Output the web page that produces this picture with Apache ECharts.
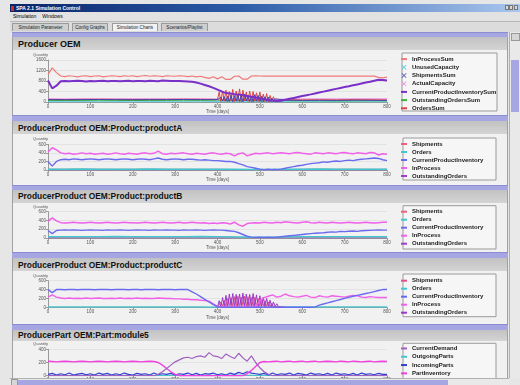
<!DOCTYPE html>
<html lang="en">
<head>
<meta charset="UTF-8">
<title>SPA 2.1 Simulation Control</title>
<style>
  body { margin:0; width:520px; height:385px; overflow:hidden; position:relative; background:#e6e6e6;
         font-family:'Liberation Sans', Arial, sans-serif; }
  .abs { position:absolute; }
  .titlebar { left:10px; top:4px; width:510px; height:8px; color:#fff; font-size:5px; font-weight:bold; line-height:8px;
              background:linear-gradient(to right,#0a246a,#2d5ca8 45%,#a8c6ee); }
  .titlebar .ico { display:inline-block; width:3px; height:5px; background:#d03020; margin:0 2px 0 1px; vertical-align:-1px; }
  .winbtn { top:5px; width:4px; height:5px; background:#d8d8d8; border:1px solid #777; box-sizing:border-box; }
  .menubar { left:10px; top:12px; width:510px; height:9px; background:#e2e2e2; border-bottom:1px solid #b8b8b8;
             font-size:5px; line-height:9px; }
  .menubar span { margin-left:3px; margin-right:3px; }
  .tabrow { left:10px; top:22px; width:510px; height:10px; background:#dcdcdc; }
  .tab { top:1px; height:8px; border:1px solid #9a9a9a; border-bottom:none; background:#cfcfcf; font-size:4.6px;
         line-height:8px; text-align:center; box-sizing:border-box; color:#222; }
  .tab.sel { background:#f2f2f2; }
  .stripe { left:12px; width:496px; background:#a6a6e2; border-top:1px solid #8c8cd0; box-sizing:border-box; }
  .ptitle { left:12px; width:496px; background:linear-gradient(#c2c2c2,#d4d4d4); font-weight:bold; color:#111;
            box-sizing:border-box; padding-left:5px; border-left:1px solid #a0a0a0; border-right:1px solid #a0a0a0; }
  .chart { left:12px; width:496px; background:#f1f1f1; border-left:1px solid #a0a0a0; border-right:1px solid #a0a0a0;
           box-sizing:border-box; overflow:hidden; }
  .vscroll { left:509px; top:32px; width:10px; height:346px; background:#e9e9e9; border-left:1px solid #b0b0b0; }
  .hscroll { left:10px; top:378px; width:499px; height:7px; background:#e9e9e9; border-top:1px solid #b0b0b0; }
</style>
</head>
<body>
  <div class="abs titlebar"><span class="ico"></span>SPA 2.1 Simulation Control</div>
  <div class="abs winbtn" style="left:505px"></div>
  <div class="abs winbtn" style="left:509px"></div>
  <div class="abs winbtn" style="left:514px"></div>
  <div class="abs menubar"><span>Simulation</span><span>Windows</span></div>
  <div class="abs tabrow">
    <div class="abs tab" style="left:2px;width:57px">Simulation Parameter</div>
    <div class="abs tab" style="left:62px;width:36px">Config Graphs</div>
    <div class="abs tab sel" style="left:102px;width:46px">Simulation Charts</div>
    <div class="abs tab" style="left:151px;width:47px">Scenarios/Playlist</div>
  </div>

  <div class="abs stripe" style="top:32px;height:5px"></div>
  <div class="abs ptitle" style="top:37px;height:13px;font-size:9px;line-height:14px">Producer OEM</div>
  <div class="abs chart" id="c1" style="top:50px;height:65px"></div>

  <div class="abs stripe" style="top:115px;height:6px"></div>
  <div class="abs ptitle" style="top:121px;height:13px;font-size:8.4px;line-height:14px">ProducerProduct OEM:Product:productA</div>
  <div class="abs chart" id="c2" style="top:134px;height:51px"></div>

  <div class="abs stripe" style="top:185px;height:5px"></div>
  <div class="abs ptitle" style="top:190px;height:13px;font-size:8.4px;line-height:13px">ProducerProduct OEM:Product:productB</div>
  <div class="abs chart" id="c3" style="top:203px;height:49px"></div>

  <div class="abs stripe" style="top:252px;height:6px"></div>
  <div class="abs ptitle" style="top:258px;height:13px;font-size:8.4px;line-height:14px">ProducerProduct OEM:Product:productC</div>
  <div class="abs chart" id="c4" style="top:271px;height:53px"></div>

  <div class="abs stripe" style="top:324px;height:6px"></div>
  <div class="abs ptitle" style="top:330px;height:11px;font-size:8.4px;line-height:11px">ProducerPart OEM:Part:module5</div>
  <div class="abs chart" id="c5" style="top:341px;height:37px"></div>

  <div class="abs vscroll">
    <div class="abs" style="left:1px;top:1px;width:7px;height:6px;background:#d6d6d6;border:1px solid #999"></div>
    <div class="abs" style="left:1px;top:28px;width:8px;height:52px;background:#a6a6e2"></div>
  </div>
  <div class="abs hscroll">
    <div class="abs" style="left:1px;top:0;width:5px;height:6px;background:#d6d6d6;border:1px solid #999"></div>
    <div class="abs" style="left:8px;top:1px;width:430px;height:5px;background:#a6a6e2"></div>
  </div>

  <script src="https://cdn.jsdelivr.net/npm/echarts@6/dist/echarts.min.js"></script>
  <script>
    const FONT = "'Liberation Sans', Arial, sans-serif";
    const X_MARK = 'path://M0,1L1,0L5,4L9,0L10,1L6,5L10,9L9,10L5,6L1,10L0,9L4,5Z';

    // time axis (days)
    const days = [0,10,20,30,40,50,60,70,80,90, 100,110,120,130,140,150,160,170,180,190,
      200,210,220,230,240,250,260,270,280,290, 300,310,320,330,340,350,360,370,380,390,
      400,410,420,430,440,450,460,470,480,490, 500,510,520,530,540,550,560,570,580,590,
      600,610,620,630,640,650,660,670,680,690, 700,710,720,730,740,750,760,770,780,790, 800];
    const daysCoarse = [0,40,80,120,160,200,240,280,320,360,400,440,480,520,560,600,640,680,720,760,800];

    // ---- Producer OEM ----
    const inProcessSum = [1050,1300,1120,990,970,1000,980,960,990,1000, 970,990,1000,960,980,1000,990,970,1000,980,
      1000,970,990,1010,980,1000,990,970,1000,990, 980,1000,990,970,990,960,980,940,900,960,
      880,960,860,860,980,990,870,870,990,1000, 990,985,985,985,985,985,985,985,985,985,
      985,985,985,985,985,985,985,985,985,985, 985,985,985,985,985,985,985,985,940,920, 950];
    const cpiSum = [820,520,620,790,800,790,800,810,800,780, 800,790,800,810,790,800,800,790,800,810,
      790,800,800,790,810,800,790,820,810,800, 800,800,790,780,770,740,700,650,600,540,
      470,400,340,320,300,290,260,230,200,170, 140,110,80,60,40,50,85,120,155,190,
      225,260,290,325,360,395,430,465,500,535, 570,600,635,670,705,740,775,810,845,840, 820];
    const ordersDays = [0,40,80,120,160,200,240,280,320,360,
      400,404,408,412,416,420,424,428,432,436,440,444,448,452,456,460,464,468,472,476,
      480,484,488,492,496,500,504,508,512,516,520,524,528,532,536,540,
      560,600,640,680,720,760,800];
    const ordersSum = [100,95,100,105,100,95,100,100,105,100,
      100,380,20,420,30,450,10,400,40,480,20,420,30,500,10,450,40,380,20,420,
      10,400,30,350,20,380,10,300,20,320,10,250,20,200,30,100,
      90,80,85,80,90,85,80];
    const shipmentsSum = [90,85,90,95,90,85,90,90,95,90,
      90,60,180,40,200,30,220,20,260,10,240,30,280,20,250,10,300,40,260,20,
      230,10,280,30,250,20,220,10,200,20,180,10,150,20,120,60,
      70,60,65,60,70,65,60];
    const outstandingOrdersSum = [60,55,60,65,60,55,60,60,65,60,70,50,60,40,50,45,50,40,45,50,45];
    const unusedCapacity = [8,5,10,6,9,4,10,7,8,5,12,3,6,4,7,5,9,6,8,5,7];
    const actualCapacity = [120,115,120,118,120,122,120,118,120,121,110,100,90,100,110,115,120,118,120,122,120];

    // ---- productA ----
    const inProcessA = [420,520,470,400,380,390,370,380,400,380, 390,370,380,390,370,380,400,380,370,390,
      380,370,390,400,380,390,440,380,370,390, 380,390,400,380,370,390,380,370,390,400,
      380,370,390,380,330,380,400,330,360,390, 380,390,400,380,390,400,390,380,400,410,
      390,380,370,400,390,380,400,390,380,400, 410,390,380,400,390,380,410,400,350,380, 370];
    const cpiA = [200,90,200,240,250,240,260,250,240,250, 260,250,240,250,260,250,240,250,260,250,
      240,250,260,250,240,260,280,250,240,250, 260,250,240,250,250,240,230,240,230,220,
      220,210,200,200,180,150,120,80,60,40, 20,10,20,10,10,20,40,60,80,100,
      110,130,150,160,170,190,180,200,210,200, 220,230,220,240,250,260,270,280,270,240, 220];
    const ordersA = [20,20,22,20,18,20,22,20,20,18,20,15,10,10,15,20,22,20,20,18,20];
    const shipmentsA = [18,18,20,18,16,18,20,18,18,16,18,12,8,8,12,18,20,18,18,16,18];
    const outstandingA = [2,2,3,2,2,2,3,2,2,2,3,5,8,6,3,2,2,3,2,2,2];

    // ---- productB ----
    const inProcessB = [380,460,390,350,340,350,360,350,340,350, 360,350,340,350,360,350,340,350,360,350,
      350,340,350,360,350,340,350,360,350,340, 350,360,340,350,360,350,340,350,330,340,
      330,350,340,320,360,300,270,330,340,350, 340,360,350,340,360,350,370,360,350,340,
      360,370,350,340,360,350,340,360,350,340, 350,360,350,340,350,360,350,340,350,360, 360];
    const cpiB = [170,100,170,180,185,180,185,180,175,180, 185,180,180,175,185,180,180,185,180,175,
      180,185,180,180,175,185,180,180,185,180, 180,175,185,180,180,185,180,175,180,185,
      180,180,170,160,150,120,80,40,20,10, 20,10,20,10,20,30,40,50,60,70,
      80,90,100,110,115,120,130,140,135,150, 145,155,160,150,165,170,175,180,185,180, 180];
    const ordersB = [30,30,28,30,32,30,28,30,30,32,30,25,15,15,20,28,30,30,28,30,30];
    const shipmentsB = [25,25,24,25,27,25,24,25,25,27,25,20,12,12,16,24,25,25,24,25,25];
    const outstandingB = [3,2,3,2,2,3,2,2,3,2,3,6,9,7,4,2,3,2,2,3,2];

    // ---- productC ----
    const cpiC = [400,330,400,400,395,400,400,395,400,400, 400,395,400,400,400,395,400,400,400,395,
      400,400,395,400,400,400,395,400,400,400, 395,400,400,400,350,300,240,180,120,60,
      10,0,0,0,0,0,0,0,0,0, 0,0,0,0,0,0,0,0,0,0,
      0,0,0,5,50,75,100,125,150,175, 200,225,250,270,290,310,330,355,380,400, 400];
    const inProcessC = [230,280,230,210,200,210,200,205,200,210, 200,205,210,200,200,205,200,210,200,205,
      200,210,200,205,200,200,210,205,200,200, 190,190,180,180,170,170,160,150,140,80,
      20,10,10,10,10,10,10,10,10,10, 150,220,250,280,230,250,300,260,240,230,
      250,270,230,220,260,240,230,260,250,240, 230,250,270,260,230,220,240,230,220,220, 220];
    const hatchDaysC = [400,404,408,412,416,420,424,428,432,436,440,444,448,452,456,460,464,468,472,476,
      480,484,488,492,496,500,504,508,512,516,520,524,528,532,536,540,544,548,552,556,560];
    const outstandingC = [0,150,10,220,20,270,10,300,30,310,20,290,10,300,30,320,20,300,10,290,
      30,310,20,280,10,260,20,230,10,200,20,160,10,120,20,80,10,50,5,20,0];
    const shipmentsC = [0,20,120,30,160,20,200,40,220,30,240,20,250,30,230,40,250,20,240,30,
      220,20,230,30,200,20,180,30,150,20,120,10,90,20,60,10,30,5,10,0,0];
    const ordersC = [10,10,12,10,8,10,12,10,10,8,5,5,5,5,8,10,12,10,10,8,10];

    // ---- module5 ----
    const partInventory = [220,215,210,215,220,215,210,215,220,215, 210,215,220,215,210,215,220,215,210,215,
      220,215,210,215,220,215,200,160,110,60, 20,0,0,0,0,0,0,0,0,0,
      0,0,0,0,0,0,0,30,80,140, 200,215,210,215,220,210,215,220,210,215,
      220,210,215,220,210,215,220,215,210,220, 215,210,220,215,210,215,220,210,215,220, 215];
    const currentDemand = [0,0,0,0,0,0,0,0,0,0, 0,0,0,0,0,0,0,0,0,0,
      0,0,0,0,0,0,20,60,110,160, 210,240,270,280,260,290,300,280,350,300,
      290,260,330,290,260,340,270,220,300,200, 120,60,20,0,0,0,0,0,0,0,
      0,0,0,0,0,0,0,0,0,0, 0,0,0,0,0,0,0,0,0,0, 0];
    const incomingParts = [20,35,10,30,15,40,10,25,35,15, 30,10,40,20,35,10,30,15,40,20,
      10,35,20,30,10,40,15,30,20,35, 10,30,20,40,15,35,10,30,25,40,
      15,30,10,40,20,50,30,60,40,30, 20,35,10,40,15,30,20,40,10,35,
      25,10,40,20,30,15,35,10,40,20, 30,15,35,10,40,20,30,15,35,20, 20];
    const outgoingParts = [5,3,5,4,6,3,5,4,5,3,8,10,6,4,5,3,5,4,5,3,5];

    function pairs(xs, ys) { return xs.map((x, i) => [x, ys[i]]); }

    function line(name, color, xs, ys, width) {
      return {
        name: name, type: 'line', data: pairs(xs, ys),
        showSymbol: false, symbol: 'none',
        lineStyle: { color: color, width: width || 1 }, itemStyle: { color: color },
        silent: true
      };
    }

    // legend entry: plain line, or an "x" marker for the capacity-type series
    function legItem(name, mark) {
      return mark ? { name: name, icon: X_MARK, itemStyle: { opacity: 1 } } : { name: name };
    }

    function build(id, cfg) {
      const chart = echarts.init(document.getElementById(id), null, { renderer: 'canvas' });
      chart.setOption({
        animation: false,
        textStyle: { fontFamily: FONT },
        grid: { left: 35, top: cfg.gridTop, width: 339, height: cfg.gridH, outerBoundsMode: 'none', containLabel: false },
        xAxis: {
          type: 'value', min: 0, max: 800, interval: 100,
          name: 'Time [days]', nameLocation: 'middle', nameGap: 7.5, nameMoveOverlap: false,
          nameTextStyle: { fontSize: 4.5, color: '#555' },
          axisLine: { lineStyle: { color: '#999' } },
          axisTick: { length: 2, lineStyle: { color: '#999' } },
          axisLabel: { fontSize: 4.5, color: '#555', margin: 2, formatter: v => String(v) },
          splitLine: { show: false }
        },
        yAxis: {
          type: 'value', min: 0, max: cfg.yMax, interval: cfg.yStep,
          name: 'Quantity', nameLocation: 'end', nameGap: 3,
          nameTextStyle: { fontSize: 4, color: '#555', align: 'right' },
          axisLine: { show: true, lineStyle: { color: '#999' } },
          axisTick: { show: true, length: 2, lineStyle: { color: '#999' } },
          axisLabel: { fontSize: 4.5, color: '#555', margin: 2, formatter: v => String(v) },
          splitLine: { lineStyle: { color: '#dadada', width: 0.6 } }
        },
        legend: {
          orient: 'vertical', left: 387, top: cfg.legTop, padding: 0, itemGap: 0,
          itemWidth: 6, itemHeight: 5,
          itemStyle: { opacity: 0 },
          textStyle: { fontSize: 6, fontWeight: 'bold', color: '#222', lineHeight: cfg.legLine || 8, fontFamily: FONT },
          data: cfg.legend
        },
        graphic: [{
          type: 'rect', shape: cfg.legBox,
          style: { fill: '#f6f6f6', stroke: '#9a9a9a', lineWidth: 1 }, z: 0
        }],
        series: cfg.series
      });
      return chart;
    }

    build('c1', {
      gridTop: 10, gridH: 42, yMax: 1600, yStep: 400, legTop: 5, legLine: 8.2,
      legBox: { x: 389, y: 3, width: 95, height: 58 },
      legend: [legItem('InProcessSum'), legItem('UnusedCapacity', true), legItem('ShipmentsSum', true),
               legItem('ActualCapacity', true), legItem('CurrentProductInventorySum'),
               legItem('OutstandingOrdersSum'), legItem('OrdersSum')],
      series: [
        line('UnusedCapacity', '#40c8d8', daysCoarse, unusedCapacity, 1),
        line('ActualCapacity', '#f080e0', daysCoarse, actualCapacity, 1),
        line('OutstandingOrdersSum', '#40b040', daysCoarse, outstandingOrdersSum, 1),
        line('OrdersSum', '#e04040', ordersDays, ordersSum, 1),
        line('ShipmentsSum', '#4048b0', ordersDays, shipmentsSum, 1),
        line('InProcessSum', '#f07878', days, inProcessSum, 1.2),
        line('CurrentProductInventorySum', '#7a30c8', days, cpiSum, 2)
      ]
    });

    const prodLegend = ['Shipments', 'Orders', 'CurrentProductInventory', 'InProcess', 'OutstandingOrders'].map(n => legItem(n));

    build('c2', {
      gridTop: 10.3, gridH: 25.7, yMax: 600, yStep: 200, legTop: 6,
      legBox: { x: 390, y: 4, width: 93, height: 42 },
      legend: prodLegend,
      series: [
        line('OutstandingOrders', '#a040c8', daysCoarse, outstandingA, 1),
        line('Shipments', '#f06080', daysCoarse, shipmentsA, 1),
        line('Orders', '#40c8d0', daysCoarse, ordersA, 1.5),
        line('CurrentProductInventory', '#6a6af0', days, cpiA, 1.4),
        line('InProcess', '#f060e8', days, inProcessA, 1.5)
      ]
    });

    build('c3', {
      gridTop: 8.7, gridH: 26.3, yMax: 600, yStep: 200, legTop: 4.7,
      legBox: { x: 390, y: 2.7, width: 93, height: 43.3 },
      legend: prodLegend,
      series: [
        line('OutstandingOrders', '#a040c8', daysCoarse, outstandingB, 1),
        line('Shipments', '#f06080', daysCoarse, shipmentsB, 1),
        line('Orders', '#40c8d0', daysCoarse, ordersB, 1.5),
        line('CurrentProductInventory', '#6a6af0', days, cpiB, 1.4),
        line('InProcess', '#f060e8', days, inProcessB, 1.5)
      ]
    });

    build('c4', {
      gridTop: 9.7, gridH: 26.6, yMax: 600, yStep: 200, legTop: 5.7,
      legBox: { x: 390, y: 3, width: 93, height: 42.7 },
      legend: prodLegend,
      series: [
        line('Orders', '#40c8d0', daysCoarse, ordersC, 1.2),
        line('Shipments', '#e05090', hatchDaysC, shipmentsC, 1),
        line('OutstandingOrders', '#9a38c8', hatchDaysC, outstandingC, 1),
        line('InProcess', '#f060e8', days, inProcessC, 1.4),
        line('CurrentProductInventory', '#6a6af0', days, cpiC, 1.4)
      ]
    });

    build('c5', {
      gridTop: 8.3, gridH: 26.4, yMax: 400, yStep: 200, legTop: 3.3, legLine: 8.3,
      legBox: { x: 390, y: 2.3, width: 93, height: 45 },
      legend: ['CurrentDemand', 'OutgoingParts', 'IncomingParts', 'PartInventory'].map(n => legItem(n)),
      series: [
        line('OutgoingParts', '#40c8d0', daysCoarse, outgoingParts, 1),
        line('IncomingParts', '#3040d0', days, incomingParts, 1.2),
        line('PartInventory', '#f040e0', days, partInventory, 1.4),
        line('CurrentDemand', '#a060c0', days, currentDemand, 1.2)
      ]
    });
  </script>
</body>
</html>
